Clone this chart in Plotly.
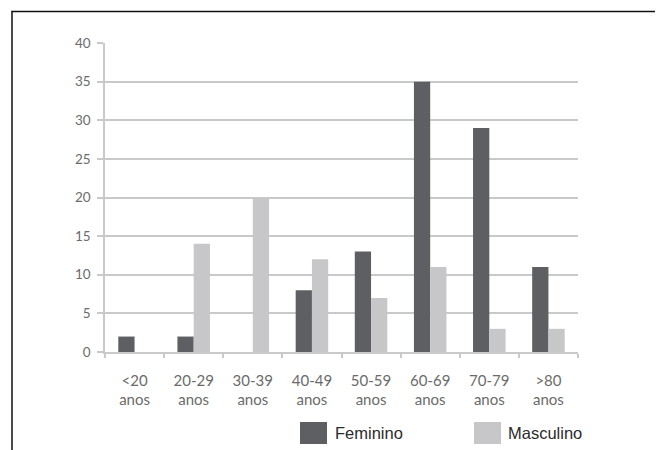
import plotly.graph_objects as go

categories = ["<20<br>anos", "20-29<br>anos", "30-39<br>anos", "40-49<br>anos",
              "50-59<br>anos", "60-69<br>anos", "70-79<br>anos", ">80<br>anos"]
feminino = [2, 2, 0, 8, 13, 35, 29, 11]
masculino = [0, 14, 20, 12, 7, 11, 3, 3]
series_names = ["Feminino", "Masculino"]
y_ticks = [0, 5, 10, 15, 20, 25, 30, 35, 40]

DARK = "#5e5f63"
LIGHT = "#c7c7c9"
GRID = "#c9c9c9"

# page is offset by the browser's 8px body margin
OFF = 8
W, H = 663, 450
L, T = 105 - OFF, 43 - OFF
R = W - (578 - OFF)
B = H - (352 - OFF)
pw, ph = W - L - R, H - T - B

def px(x):
    return (x - OFF - L) / pw

def py(y):
    return (H - B - (y - OFF)) / ph

fig = go.Figure()
fig.add_trace(go.Bar(x=categories, y=feminino, name=series_names[0],
                     marker=dict(color=DARK, line=dict(width=0))))
fig.add_trace(go.Bar(x=categories, y=masculino, name=series_names[1],
                     marker=dict(color=LIGHT, line=dict(width=0))))

shapes = [
    # outer frame (left and top)
    dict(type="line", xref="paper", yref="paper", x0=px(12), x1=px(12), y0=py(460), y1=py(11.5),
         line=dict(color="#111111", width=1.5)),
    dict(type="line", xref="paper", yref="paper", x0=px(11.3), x1=px(675), y0=py(11.5), y1=py(11.5),
         line=dict(color="#111111", width=1.5)),
    # legend swatches
    dict(type="rect", xref="paper", yref="paper", x0=px(300), x1=px(327), y0=py(444), y1=py(422),
         fillcolor=DARK, line=dict(width=0)),
    dict(type="rect", xref="paper", yref="paper", x0=px(474), x1=px(501), y0=py(444), y1=py(422),
         fillcolor=LIGHT, line=dict(width=0)),
]
legend_font = dict(family="Liberation Sans, Arial", size=16.5, color="#2b2b2b")
annotations = [
    dict(xref="paper", yref="paper", x=px(333), y=py(433), text=series_names[0], showarrow=False,
         xanchor="left", yanchor="middle", font=legend_font),
    dict(xref="paper", yref="paper", x=px(506), y=py(433), text=series_names[1], showarrow=False,
         xanchor="left", yanchor="middle", font=legend_font),
]

fig.update_layout(
    width=W, height=H,
    margin=dict(l=L, r=R, t=T, b=B, pad=0),
    paper_bgcolor="white", plot_bgcolor="white",
    barmode="group", bargap=0.45, bargroupgap=0,
    showlegend=False,
    shapes=shapes, annotations=annotations,
    font=dict(family="Lato, Open Sans, sans-serif", size=13, color="#6b6b6b"),
)
fig.update_yaxes(range=[0, 40], tickvals=y_ticks, showgrid=True, gridcolor=GRID, gridwidth=2,
                 showline=True, linecolor=GRID, linewidth=1.5, ticks="outside", ticklen=6,
                 tickcolor=GRID, tickwidth=1.5, zeroline=False, ticklabelstandoff=4,
                 tickfont=dict(size=13.5, color="#6b6b6b"))
fig.update_xaxes(showline=True, linecolor=GRID, linewidth=1.5, ticks="outside", ticklen=4,
                 tickcolor=GRID, tickwidth=1.5, tickson="boundaries", showgrid=False,
                 ticklabelstandoff=14, tickfont=dict(size=15, color="#6b6b6b"))

fig.write_html("out.html")
